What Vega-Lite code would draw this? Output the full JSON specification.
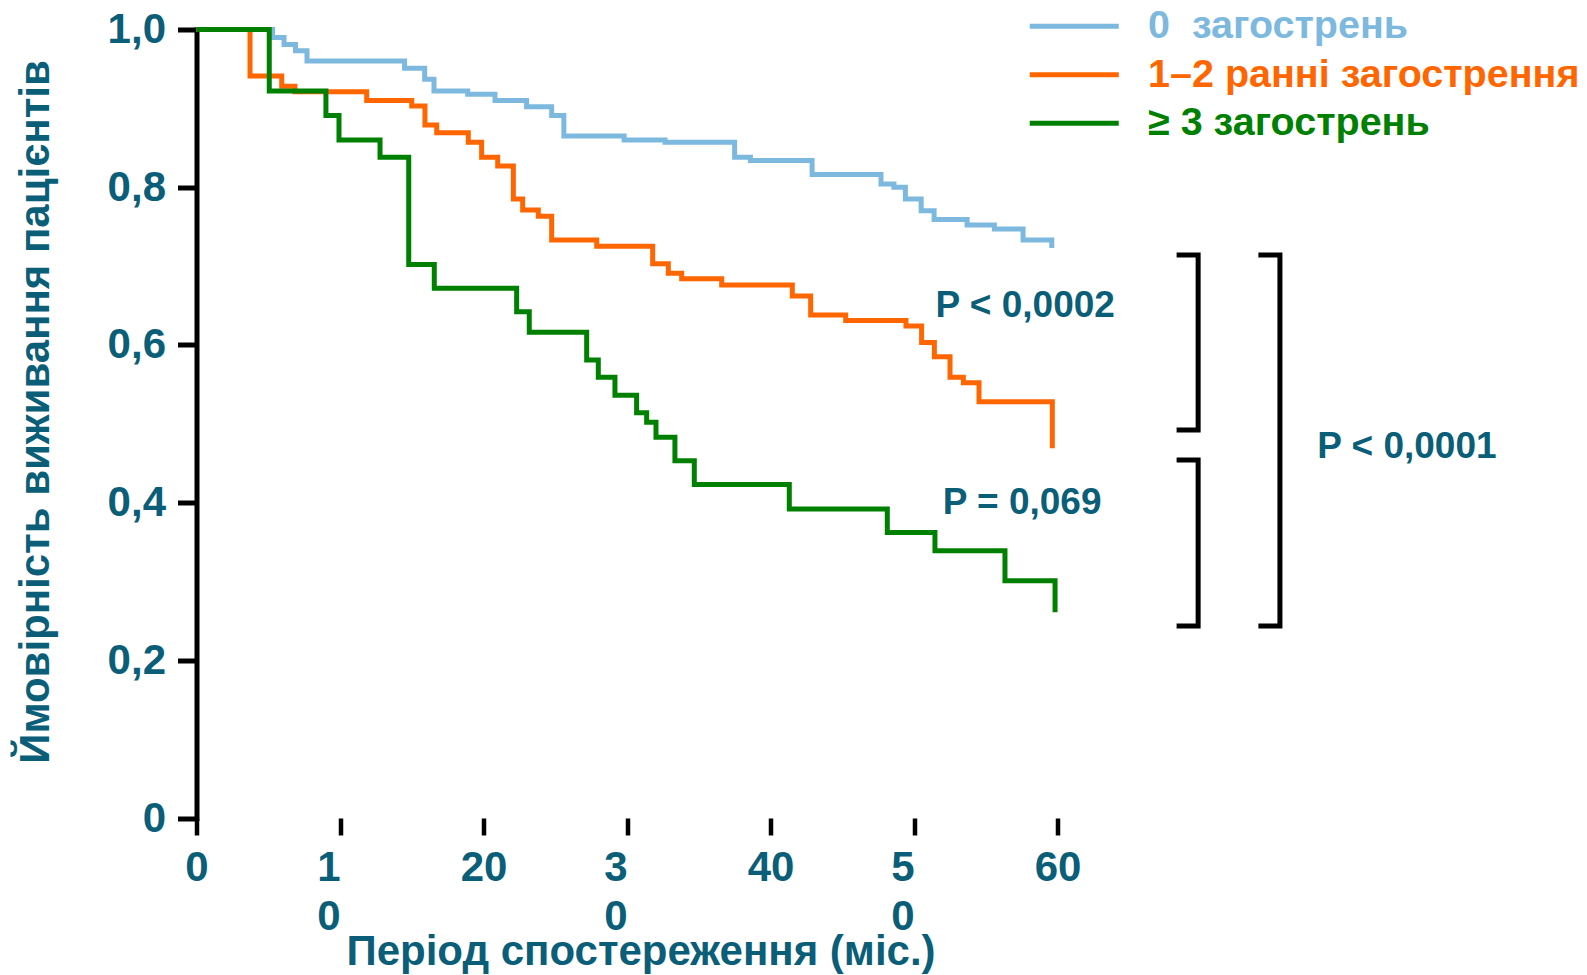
{
  "$schema": "https://vega.github.io/schema/vega-lite/v6.json",
  "width": 1291.5,
  "height": 788.5,
  "autosize": {"type": "none"},
  "padding": {"left": 196.5, "top": 29.5, "right": 99, "bottom": 157},
  "background": "white",
  "config": {"view": {"stroke": null}, "font": "Liberation Sans"},
  "datasets": {
    "curves": [
      {"group": "0\u00a0 загострень", "month": 0, "surv": 1.0},
      {"group": "0\u00a0 загострень", "month": 5.3, "surv": 0.99},
      {"group": "0\u00a0 загострень", "month": 6.1, "surv": 0.981},
      {"group": "0\u00a0 загострень", "month": 6.9, "surv": 0.973},
      {"group": "0\u00a0 загострень", "month": 7.7, "surv": 0.96},
      {"group": "0\u00a0 загострень", "month": 14.5, "surv": 0.951},
      {"group": "0\u00a0 загострень", "month": 15.9, "surv": 0.937},
      {"group": "0\u00a0 загострень", "month": 16.55, "surv": 0.922},
      {"group": "0\u00a0 загострень", "month": 18.9, "surv": 0.918},
      {"group": "0\u00a0 загострень", "month": 20.8, "surv": 0.91},
      {"group": "0\u00a0 загострень", "month": 23.0, "surv": 0.902},
      {"group": "0\u00a0 загострень", "month": 24.75, "surv": 0.891},
      {"group": "0\u00a0 загострень", "month": 25.6, "surv": 0.865},
      {"group": "0\u00a0 загострень", "month": 29.8, "surv": 0.86},
      {"group": "0\u00a0 загострень", "month": 32.65, "surv": 0.857},
      {"group": "0\u00a0 загострень", "month": 37.5, "surv": 0.838},
      {"group": "0\u00a0 загострень", "month": 38.6, "surv": 0.834},
      {"group": "0\u00a0 загострень", "month": 42.9, "surv": 0.816},
      {"group": "0\u00a0 загострень", "month": 47.7, "surv": 0.804},
      {"group": "0\u00a0 загострень", "month": 48.6, "surv": 0.8},
      {"group": "0\u00a0 загострень", "month": 49.4, "surv": 0.785},
      {"group": "0\u00a0 загострень", "month": 50.5, "surv": 0.77},
      {"group": "0\u00a0 загострень", "month": 51.4, "surv": 0.759},
      {"group": "0\u00a0 загострень", "month": 53.7, "surv": 0.752},
      {"group": "0\u00a0 загострень", "month": 55.6, "surv": 0.747},
      {"group": "0\u00a0 загострень", "month": 57.6, "surv": 0.733},
      {"group": "0\u00a0 загострень", "month": 59.6, "surv": 0.723},
      {"group": "1–2 ранні загострення", "month": 0, "surv": 1.0},
      {"group": "1–2 ранні загострення", "month": 3.73, "surv": 0.941},
      {"group": "1–2 ранні загострення", "month": 5.94, "surv": 0.928},
      {"group": "1–2 ранні загострення", "month": 6.86, "surv": 0.921},
      {"group": "1–2 ранні загострення", "month": 11.86, "surv": 0.91},
      {"group": "1–2 ранні загострення", "month": 15.0, "surv": 0.903},
      {"group": "1–2 ранні загострення", "month": 15.92, "surv": 0.879},
      {"group": "1–2 ранні загострення", "month": 16.74, "surv": 0.869},
      {"group": "1–2 ранні загострення", "month": 18.94, "surv": 0.857},
      {"group": "1–2 ранні загострення", "month": 19.87, "surv": 0.838},
      {"group": "1–2 ранні загострення", "month": 20.99, "surv": 0.827},
      {"group": "1–2 ранні загострення", "month": 22.08, "surv": 0.785},
      {"group": "1–2 ранні загострення", "month": 22.73, "surv": 0.771},
      {"group": "1–2 ранні загострення", "month": 23.82, "surv": 0.763},
      {"group": "1–2 ранні загострення", "month": 24.75, "surv": 0.733},
      {"group": "1–2 ранні загострення", "month": 27.89, "surv": 0.725},
      {"group": "1–2 ранні загострення", "month": 31.79, "surv": 0.703},
      {"group": "1–2 ранні загострення", "month": 32.88, "surv": 0.691},
      {"group": "1–2 ранні загострення", "month": 33.81, "surv": 0.684},
      {"group": "1–2 ранні загострення", "month": 36.6, "surv": 0.676},
      {"group": "1–2 ранні загострення", "month": 41.52, "surv": 0.662},
      {"group": "1–2 ранні загострення", "month": 42.8, "surv": 0.638},
      {"group": "1–2 ранні загострення", "month": 45.24, "surv": 0.631},
      {"group": "1–2 ранні загострення", "month": 49.44, "surv": 0.624},
      {"group": "1–2 ранні загострення", "month": 50.53, "surv": 0.603},
      {"group": "1–2 ранні загострення", "month": 51.42, "surv": 0.585},
      {"group": "1–2 ранні загострення", "month": 52.51, "surv": 0.559},
      {"group": "1–2 ранні загострення", "month": 53.44, "surv": 0.552},
      {"group": "1–2 ранні загострення", "month": 54.53, "surv": 0.528},
      {"group": "1–2 ранні загострення", "month": 59.64, "surv": 0.469},
      {"group": "≥ 3 загострень", "month": 0, "surv": 1.0},
      {"group": "≥ 3 загострень", "month": 5.07, "surv": 0.922},
      {"group": "≥ 3 загострень", "month": 9.02, "surv": 0.891},
      {"group": "≥ 3 загострень", "month": 9.93, "surv": 0.86},
      {"group": "≥ 3 загострень", "month": 12.79, "surv": 0.838},
      {"group": "≥ 3 загострень", "month": 14.79, "surv": 0.702},
      {"group": "≥ 3 загострень", "month": 16.57, "surv": 0.672},
      {"group": "≥ 3 загострень", "month": 22.31, "surv": 0.642},
      {"group": "≥ 3 загострень", "month": 23.19, "surv": 0.616},
      {"group": "≥ 3 загострень", "month": 27.19, "surv": 0.581},
      {"group": "≥ 3 загострень", "month": 28.0, "surv": 0.559},
      {"group": "≥ 3 загострень", "month": 29.16, "surv": 0.536},
      {"group": "≥ 3 загострень", "month": 30.67, "surv": 0.514},
      {"group": "≥ 3 загострень", "month": 31.37, "surv": 0.502},
      {"group": "≥ 3 загострень", "month": 32.02, "surv": 0.483},
      {"group": "≥ 3 загострень", "month": 33.34, "surv": 0.453},
      {"group": "≥ 3 загострень", "month": 34.69, "surv": 0.423},
      {"group": "≥ 3 загострень", "month": 41.31, "surv": 0.392},
      {"group": "≥ 3 загострень", "month": 48.14, "surv": 0.362},
      {"group": "≥ 3 загострень", "month": 51.46, "surv": 0.339},
      {"group": "≥ 3 загострень", "month": 56.34, "surv": 0.301},
      {"group": "≥ 3 загострень", "month": 59.83, "surv": 0.261}
    ],
    "brackets": [
      {"b": "a", "i": 0, "x": 68.3, "y": 0.714},
      {"b": "a", "i": 1, "x": 69.8, "y": 0.714},
      {"b": "a", "i": 2, "x": 69.8, "y": 0.492},
      {"b": "a", "i": 3, "x": 68.3, "y": 0.492},
      {"b": "b", "i": 0, "x": 68.3, "y": 0.454},
      {"b": "b", "i": 1, "x": 69.8, "y": 0.454},
      {"b": "b", "i": 2, "x": 69.8, "y": 0.2435},
      {"b": "b", "i": 3, "x": 68.3, "y": 0.2435},
      {"b": "c", "i": 0, "x": 74.0, "y": 0.714},
      {"b": "c", "i": 1, "x": 75.5, "y": 0.714},
      {"b": "c", "i": 2, "x": 75.5, "y": 0.2435},
      {"b": "c", "i": 3, "x": 74.0, "y": 0.2435}
    ],
    "notes": [
      {"x": 51.5, "y": 0.649, "label": "P < 0,0002"},
      {"x": 52.0, "y": 0.399, "label": "P = 0,069"},
      {"x": 78.1, "y": 0.47, "label": "P < 0,0001"}
    ]
  },
  "layer": [
    {
      "data": {"name": "curves"},
      "mark": {"type": "line", "interpolate": "step-after", "strokeWidth": 5, "strokeCap": "butt", "strokeJoin": "miter", "clip": false},
      "encoding": {
        "x": {
          "field": "month", "type": "quantitative",
          "scale": {"domain": [0, 90], "nice": false, "zero": false},
          "axis": {
            "values": [0, 10, 20, 30, 40, 50, 60],
            "domain": false,
            "grid": false,
            "tickSize": 17,
            "tickWidth": 4.5,
            "tickColor": "black",
            "labelFont": "Liberation Sans",
            "labelFontSize": 42,
            "labelFontWeight": "bold",
            "labelColor": "#0B5E78",
            "labelPadding": 12,
            "labelLineHeight": 49,
            "labelFlush": false,
            "labelOverlap": false,
            "labelAlign": {"condition": {"test": "datum.value == 10 || datum.value == 30 || datum.value == 50", "value": "right"}, "value": "center"},
            "labelExpr": "(datum.value == 10 || datum.value == 30 || datum.value == 50) ? [substring(datum.label, 0, 1), substring(datum.label, 1, 2)] : datum.label",
            "title": "Період спостереження (міс.)",
            "titleFont": "Liberation Sans",
            "titleFontSize": 42,
            "titleFontWeight": "bold",
            "titleColor": "#0B5E78",
            "titleX": 444,
            "titleY": 146,
            "titleAlign": "center",
            "titleAnchor": null,
            "titleBaseline": "alphabetic"
          }
        },
        "y": {
          "field": "surv", "type": "quantitative",
          "scale": {"domain": [0, 1], "nice": false},
          "axis": {
            "values": [0, 0.2, 0.4, 0.6, 0.8, 1.0],
            "grid": false,
            "domainWidth": 5,
            "domainColor": "black",
            "domainCap": "square",
            "tickSize": 19,
            "tickWidth": 5,
            "tickColor": "black",
            "labelFont": "Liberation Sans",
            "labelFontSize": 42,
            "labelFontWeight": "bold",
            "labelColor": "#0B5E78",
            "labelPadding": 12,
            "labelFlush": false,
            "labelOverlap": false,
            "labelExpr": "datum.value == 0 ? '0' : replace(format(datum.value, '.1f'), '.', ',')",
            "title": "Ймовірність виживання пацієнтів",
            "titleFont": "Liberation Sans",
            "titleFontSize": 42,
            "titleFontWeight": "bold",
            "titleColor": "#0B5E78",
            "titleAngle": -90,
            "titleX": -161,
            "titleY": 382,
            "titleAlign": "center",
            "titleAnchor": null,
            "titleBaseline": "middle"
          }
        },
        "color": {
          "field": "group", "type": "nominal",
          "scale": {"domain": ["0\u00a0 загострень", "1–2 ранні загострення", "≥ 3 загострень"], "range": ["#7DB9DE", "#FF6600", "#008000"]},
          "legend": {
            "orient": "none",
            "legendX": 858,
            "legendY": -23,
            "title": null,
            "padding": 0,
            "symbolType": "M-2.8,0H2.8",
            "symbolSize": 1011,
            "symbolStrokeWidth": 5,
            "labelFont": "Liberation Sans",
            "labelFontSize": 39.5,
            "labelFontWeight": "bold",
            "labelLimit": 0,
            "labelOffset": 54,
            "rowPadding": 7.5,
            "encode": {"labels": {"update": {"fill": {"scale": "color", "field": "value"}}}}
          }
        }
      }
    },
    {
      "mark": {"type": "rule", "strokeWidth": 5, "color": "black", "strokeCap": "square"},
      "encoding": {
        "x": {"datum": 0, "type": "quantitative", "scale": {"domain": [0, 90], "nice": false, "zero": false}},
        "x2": {"datum": 60},
        "y": {"datum": 0, "type": "quantitative", "scale": {"domain": [0, 1], "nice": false}}
      }
    },
    {
      "data": {"name": "brackets"},
      "mark": {"type": "line", "strokeWidth": 5, "color": "black", "strokeCap": "butt", "strokeJoin": "miter", "clip": false},
      "encoding": {
        "x": {"field": "x", "type": "quantitative", "scale": {"domain": [0, 90], "nice": false, "zero": false}},
        "y": {"field": "y", "type": "quantitative", "scale": {"domain": [0, 1], "nice": false}},
        "detail": {"field": "b", "type": "nominal"},
        "order": {"field": "i", "type": "quantitative"}
      }
    },
    {
      "data": {"name": "notes"},
      "mark": {"type": "text", "align": "left", "baseline": "middle", "font": "Liberation Sans", "fontSize": 37, "fontWeight": "bold", "color": "#0B5E78", "clip": false},
      "encoding": {
        "x": {"field": "x", "type": "quantitative", "scale": {"domain": [0, 90], "nice": false, "zero": false}},
        "y": {"field": "y", "type": "quantitative", "scale": {"domain": [0, 1], "nice": false}},
        "text": {"field": "label"}
      }
    }
  ]
}
